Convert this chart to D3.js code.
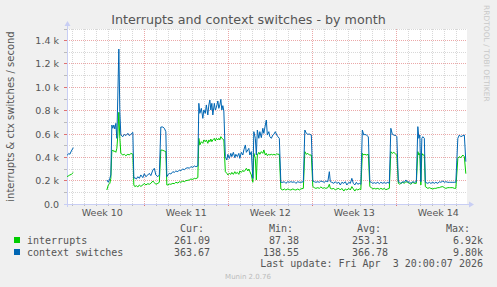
<!DOCTYPE html>
<html><head><meta charset="utf-8">
<script src="https://cdn.jsdelivr.net/npm/d3@7"></script>
<style>body{margin:0;background:#F0F0F0;overflow:hidden}</style>
</head><body>
<script>
// hours since Mon 2026-03-02 00:00
const hours = [
13,17,19,22,26,59,93,96,99,101,
103,105,107,109,111,113,115,117,119,121,
125,128,131,135,138,141,145,147,149,152,
155,158,161,165,168,171,175,178,181,185,
188,191,195,198,201,205,208,211,213,215,
218,221,225,228,231,235,238,241,245,248,
251,255,258,261,265,268,271,275,277,279,
282,285,287,290,292,295,297,299,301,303,
305,308,310,312,315,317,319,321,323,325,
327,330,333,335,338,341,343,346,349,351,
354,357,359,362,365,367,370,372,375,377,
379,382,385,387,390,392,394,397,399,402,
405,407,410,412,414,417,419,422,425,427,
430,433,435,438,441,445,448,451,455,458,
461,465,468,471,475,478,481,486,489,492,
495,498,502,505,508,511,515,518,521,525,
528,531,535,538,540,543,547,550,553,557,
560,563,567,570,573,577,580,583,586,589,
592,595,598,601,604,607,609,612,616,619,
622,625,628,631,635,638,641,645,648,651,
655,658,661,664,667,671,673,676,679,681,
685,688,691,695,698,701,705,708,712,715,
717,719,721,723,725,728,730,735,738,741,
745,748,751,755,758,761,765,768,771,775,
778,781,785,788,791,795,798,801,805,808,
811];
const contextSwitches = [
414,434,426,454,483,null,206,186,220,249,
677,649,677,643,691,563,934,1328,791,591,
577,597,586,606,586,597,614,220,226,214,
234,220,249,226,260,234,249,263,243,291,
306,249,234,249,660,660,649,620,234,249,
263,257,277,271,283,277,291,286,300,294,
306,311,306,320,314,326,320,326,863,777,
820,734,806,777,849,763,849,891,806,863,
763,863,806,826,883,820,849,897,806,843,
797,406,377,426,391,434,406,443,397,426,
406,434,391,443,420,463,506,443,463,477,
420,449,220,620,563,420,634,563,620,569,
649,606,677,720,591,620,577,563,591,597,
620,591,577,563,186,186,191,177,191,186,
191,186,191,177,191,186,186,191,634,606,
597,600,591,197,191,186,191,186,197,191,
186,197,191,277,191,186,177,191,177,186,
163,186,177,191,163,186,177,220,177,163,
186,169,177,169,634,591,597,591,577,191,
186,177,183,177,186,174,186,177,186,177,
186,177,649,597,591,586,577,191,186,177,
191,186,206,186,191,177,191,186,191,663,
563,591,191,563,577,563,186,177,186,177,
186,177,186,177,191,186,197,186,191,186,
186,186,186,186,186,563,591,577,586,591,
363];
const interrupts = [
234,243,249,254,271,null,120,163,177,220,
454,463,449,454,443,477,591,786,563,434,
420,426,414,426,420,434,426,163,149,157,
146,163,151,163,177,163,174,169,177,197,
183,169,177,186,463,460,454,449,163,163,
171,169,177,174,186,180,191,186,197,191,
200,203,206,214,211,220,217,226,563,506,
534,520,549,534,549,520,549,534,557,534,
549,563,540,563,549,563,549,577,563,557,
549,277,263,249,263,254,271,254,277,260,
271,254,283,271,289,277,291,306,283,300,
277,249,186,434,391,206,420,443,426,449,
434,463,420,434,414,426,420,426,420,426,
420,431,426,426,129,120,129,120,129,123,
120,129,123,120,129,120,129,134,449,426,
434,420,420,149,140,134,140,134,146,134,
140,134,140,169,134,129,134,120,129,134,
120,134,111,129,120,134,120,149,129,111,
129,120,129,123,434,420,426,420,426,149,
140,129,134,129,134,126,134,126,134,123,
129,134,449,434,443,426,420,177,169,177,
186,177,191,186,177,169,186,177,177,449,
420,434,163,434,420,420,149,134,140,134,
129,134,134,140,140,146,149,140,134,140,
140,140,140,134,134,391,406,397,420,406,
260];

const yTicks = [0,200,400,600,800,1000,1200,1400];
const yTickLabels = ["0.0","0.2 k","0.4 k","0.6 k","0.8 k","1.0 k","1.2 k","1.4 k"];
const weekLabels = ["Week 10","Week 11","Week 12","Week 13","Week 14"];
const weekStartHours = [0,168,336,504,672];
const seriesNames = ["interrupts","context switches"];
const seriesColors = ["#00CC00","#0066B3"];
const statHeads = ["Cur:","Min:","Avg:","Max:"];
const statValues = [
  ["261.09","87.38","253.31","6.92k"],
  ["363.67","138.55","366.78","9.80k"]
];
const titleText = "Interrupts and context switches - by month";
const yAxisTitle = "interrupts & ctx switches / second";
const lastUpdate = "Last update: Fri Apr  3 20:00:07 2026";
const versionText = "Munin 2.0.76";
const sideText = "RRDTOOL / TOBI OETIKER";

const W = 497, H = 287;
const base = Date.UTC(2026, 2, 2);
const H2MS = 3600e3;
const toDate = h => new Date(base + h * H2MS);
const L = 67, R = 467, T = 29, B = 204;

const x = d3.scaleUtc().domain([toDate(13.33), toDate(813.33)]).range([L, R]);
const y = d3.scaleLinear().domain([0, 1500]).range([B, T]);

const svg = d3.select("body").append("svg").attr("width", W).attr("height", H)
  .style("display","block");
svg.append("rect").attr("width", W).attr("height", H).attr("fill", "#F0F0F0");
svg.append("rect").attr("x", L).attr("y", T).attr("width", R - L).attr("height", B - T).attr("fill", "#FFFFFF");

const gGrid = svg.append("g").attr("shape-rendering", "crispEdges");
const minorC = "#D8D8D8", majorC = "#EBA8A8";
// vertical daily grid
const days = d3.utcDay.range(toDate(13.33), toDate(813.33));
days.forEach(d => {
  const hr = (d - base) / H2MS;
  const major = hr % 168 === 0;
  const xp = Math.floor(x(d)) + 0.5;
  gGrid.append("line").attr("x1", xp).attr("x2", xp).attr("y1", T).attr("y2", B)
    .attr("stroke", major ? majorC : minorC).attr("stroke-dasharray", "1,1");
  gGrid.append("line").attr("x1", xp).attr("x2", xp).attr("y1", B).attr("y2", B + 2)
    .attr("stroke", major ? "#E07070" : "#BBBBBB");
});
// horizontal grid
d3.range(100, 1501, 100).forEach(v => {
  const major = v % 200 === 0;
  const yp = Math.floor(y(v)) + 0.5;
  gGrid.append("line").attr("x1", L).attr("x2", R).attr("y1", yp).attr("y2", yp)
    .attr("stroke", major ? majorC : minorC).attr("stroke-dasharray", "1,1");
  gGrid.append("line").attr("x1", L - 3).attr("x2", L).attr("y1", yp).attr("y2", yp)
    .attr("stroke", major ? "#E07070" : "#BBBBBB");
});

// axes
const axC = "#C8CEF4";
const gAx = svg.append("g").attr("shape-rendering", "crispEdges");
gAx.append("line").attr("x1", L - 3).attr("x2", R + 3).attr("y1", B + 0.5).attr("y2", B + 0.5).attr("stroke", axC);
gAx.append("line").attr("x1", L + 0.5).attr("x2", L + 0.5).attr("y1", T - 4).attr("y2", B + 3).attr("stroke", axC);
svg.append("path").attr("d", `M${R+2},${B-2.5} L${R+7},${B+0.5} L${R+2},${B+3.5} Z`).attr("fill", axC);
svg.append("path").attr("d", `M${L-2.5},${T-3} L${L+0.5},${T-8} L${L+3.5},${T-3} Z`).attr("fill", axC);

// y tick labels
const sans = "'DejaVu Sans', sans-serif";
const mono = "'DejaVu Sans Mono', monospace";
svg.append("g").selectAll("text").data(yTicks).join("text")
  .attr("x", 59).attr("y", d => Math.floor(y(d)) + 4)
  .attr("text-anchor", "end").attr("font-family", sans).attr("font-size", "9.5px")
  .attr("fill", "#555").text((d, i) => yTickLabels[i]);

// week labels
svg.append("g").selectAll("text").data(weekLabels).join("text")
  .attr("x", (d, i) => x(toDate(weekStartHours[i] + 84)))
  .attr("y", 216).attr("text-anchor", "middle").attr("font-family", sans)
  .attr("font-size", "9.5px").attr("fill", "#555").text(d => d);

// series lines
const clip = svg.append("clipPath").attr("id", "clip").append("rect")
  .attr("x", L).attr("y", T - 5).attr("width", R - L).attr("height", B - T + 5);
const line = d3.line().defined(d => d.v != null).x(d => x(toDate(d.h))).y(d => y(d.v));
[interrupts, contextSwitches].forEach((arr, i) => {
  const pts = hours.map((h, j) => ({ h, v: arr[j] }));
  svg.append("path").attr("d", line(pts)).attr("fill", "none")
    .attr("stroke", seriesColors[i]).attr("stroke-width", 1)
    .attr("clip-path", "url(#clip)");
});

// title
svg.append("text").attr("x", 248.5).attr("y", 23.5).attr("text-anchor", "middle")
  .attr("font-family", sans).attr("font-size", "12.7px").attr("fill", "#555").text(titleText);

// y-axis title
svg.append("text").attr("transform", `translate(14,${(T + B) / 2}) rotate(-90)`)
  .attr("text-anchor", "middle").attr("font-family", sans).attr("font-size", "10px")
  .attr("fill", "#555").text(yAxisTitle);

// side text
svg.append("text").attr("transform", `translate(484,5) rotate(90)`)
  .attr("text-anchor", "start").attr("font-family", sans).attr("font-size", "7.5px")
  .attr("fill", "#C8C8C8").text(sideText);

// legend
const statEnds = [204, 293, 381, 470];
const valEnds = [210, 299, 388, 483];
svg.append("g").selectAll("text").data(statHeads).join("text")
  .attr("x", (d, i) => statEnds[i]).attr("y", 231.5).attr("text-anchor", "end")
  .attr("font-family", mono).attr("font-size", "10px").attr("fill", "#555").text(d => d);
seriesNames.forEach((name, i) => {
  const by = 243.5 + i * 12;
  svg.append("rect").attr("x", 14).attr("y", by - 6.5).attr("width", 6).attr("height", 6)
    .attr("fill", seriesColors[i]);
  svg.append("text").attr("x", 27).attr("y", by).attr("font-family", mono)
    .attr("font-size", "10px").attr("fill", "#555").text(name);
  statValues[i].forEach((v, k) => {
    svg.append("text").attr("x", valEnds[k]).attr("y", by).attr("text-anchor", "end")
      .attr("font-family", mono).attr("font-size", "10px").attr("fill", "#555").text(v);
  });
});
svg.append("text").attr("x", 483).attr("y", 267).attr("text-anchor", "end")
  .attr("font-family", mono).attr("font-size", "10px").attr("fill", "#555")
  .style("white-space", "pre").text(lastUpdate);
svg.append("text").attr("x", 248).attr("y", 279).attr("text-anchor", "middle")
  .attr("font-family", sans).attr("font-size", "7px").attr("fill", "#BBBBBB").text(versionText);
</script>
</body></html>
